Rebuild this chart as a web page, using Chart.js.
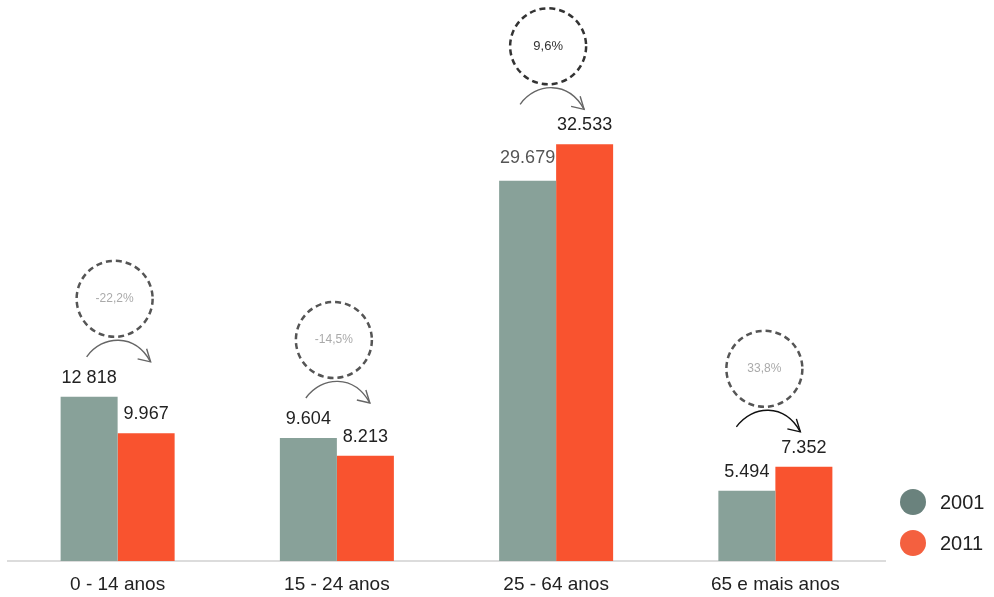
<!DOCTYPE html>
<html>
<head>
<meta charset="utf-8">
<script src="https://cdn.jsdelivr.net/npm/chart.js@4.4.1/dist/chart.umd.min.js"></script>
<style>
  html, body { margin: 0; padding: 0; background: #fff; }
  #wrap { width: 994px; height: 597px; }
</style>
</head>
<body>
<div id="wrap"><canvas id="c" width="994" height="597"></canvas></div>
<script>
// População residente por grupo etário
const categories = ['0 - 14 anos', '15 - 24 anos', '25 - 64 anos', '65 e mais anos'];
const years = ['2001', '2011'];
const values2001 = [12818, 9604, 29679, 5494];
const values2011 = [9967, 8213, 32533, 7352];
const labels2001 = ['12 818', '9.604', '29.679', '5.494'];
const labels2011 = ['9.967', '8.213', '32.533', '7.352'];
const changeLabels = ['-22,2%', '-14,5%', '9,6%', '33,8%'];

const colors = { y2001: '#88a199', y2011: '#f9532f' };
const legendDots = ['#6a827d', '#f4603f'];
const FONT = '"Liberation Sans", Arial, sans-serif';
const circleShift = [-3, -3, -8, -11];

// Value labels, dashed variation circles with curved arrows, and the legend
const annotations = {
  id: 'annotations',
  afterDatasetsDraw(chart) {
    const ctx = chart.ctx;
    const xs = chart.scales.x;
    const area = chart.chartArea;
    const sets = [labels2001, labels2011];
    ctx.save();
    ctx.font = '18px ' + FONT;
    ctx.textAlign = 'center';
    ctx.textBaseline = 'bottom';
    chart.data.datasets.forEach((ds, di) => {
      chart.getDatasetMeta(di).data.forEach((bar, i) => {
        ctx.fillStyle = (di === 0 && i === 2) ? '#555' : '#222';
        const gap = (di === 0 && i === 2) ? 14 : 10;
        ctx.fillText(sets[di][i], bar.x, bar.y - gap);
      });
    });

    categories.forEach((c, i) => {
      const b0 = chart.getDatasetMeta(0).data[i];
      const b1 = chart.getDatasetMeta(1).data[i];
      const top = Math.min(b0.y, b1.y);
      const cx = xs.getPixelForValue(i) + circleShift[i];
      const cy = top - 98;
      const strong = i === 2;
      // dashed circle
      ctx.beginPath();
      ctx.setLineDash([6, 4]);
      ctx.lineWidth = 2.5;
      ctx.strokeStyle = strong ? '#333' : '#555';
      ctx.arc(cx, cy, 38, 0, Math.PI * 2);
      ctx.stroke();
      ctx.setLineDash([]);
      // percentage
      ctx.font = (strong ? '13px ' : '12px ') + FONT;
      ctx.textBaseline = 'middle';
      ctx.fillStyle = strong ? '#333' : '#aaa';
      ctx.fillText(changeLabels[i], cx, cy);
      // curved arrow
      const sx = cx - 28, sy = cy + 58;
      const ex = cx + 36, ey = cy + 63;
      ctx.beginPath();
      ctx.lineWidth = 1.4;
      ctx.strokeStyle = i === 3 ? '#111' : '#666';
      ctx.moveTo(sx, sy);
      ctx.bezierCurveTo(cx - 12, cy + 36, cx + 20, cy + 34, ex, ey);
      ctx.stroke();
      ctx.beginPath();
      ctx.moveTo(ex - 4, ey - 13);
      ctx.lineTo(ex, ey);
      ctx.lineTo(ex - 13, ey - 3);
      ctx.stroke();
    });

    // legend
    ctx.font = '20px ' + FONT;
    ctx.textAlign = 'left';
    ctx.textBaseline = 'middle';
    chart.data.datasets.forEach((ds, di) => {
      const y = area.bottom - 59 + di * 41;
      ctx.beginPath();
      ctx.fillStyle = legendDots[di];
      ctx.arc(913, y, 13, 0, Math.PI * 2);
      ctx.fill();
      ctx.fillStyle = '#222';
      ctx.fillText(ds.label, 940, y + 1);
    });
    ctx.restore();
  }
};

new Chart(document.getElementById('c'), {
  type: 'bar',
  data: {
    labels: categories,
    datasets: [
      { label: years[0], data: values2001, backgroundColor: colors.y2001 },
      { label: years[1], data: values2011, backgroundColor: colors.y2011 }
    ]
  },
  options: {
    responsive: false,
    animation: false,
    devicePixelRatio: 1,
    layout: { padding: { left: 8, top: 0, right: 109, bottom: 0 } },
    datasets: { bar: { barPercentage: 1, categoryPercentage: 0.52 } },
    scales: {
      x: {
        grid: { display: false, drawTicks: false },
        border: { display: true, color: '#dcdcdc', width: 2 },
        ticks: { color: '#222', font: { family: FONT, size: 19 }, padding: 12 },
        afterFit(scale) { scale.height = 36; }
      },
      y: { display: false, min: 0, max: 43800 }
    },
    plugins: {
      tooltip: { enabled: false },
      legend: { display: false }
    }
  },
  plugins: [annotations]
});
</script>
</body>
</html>
